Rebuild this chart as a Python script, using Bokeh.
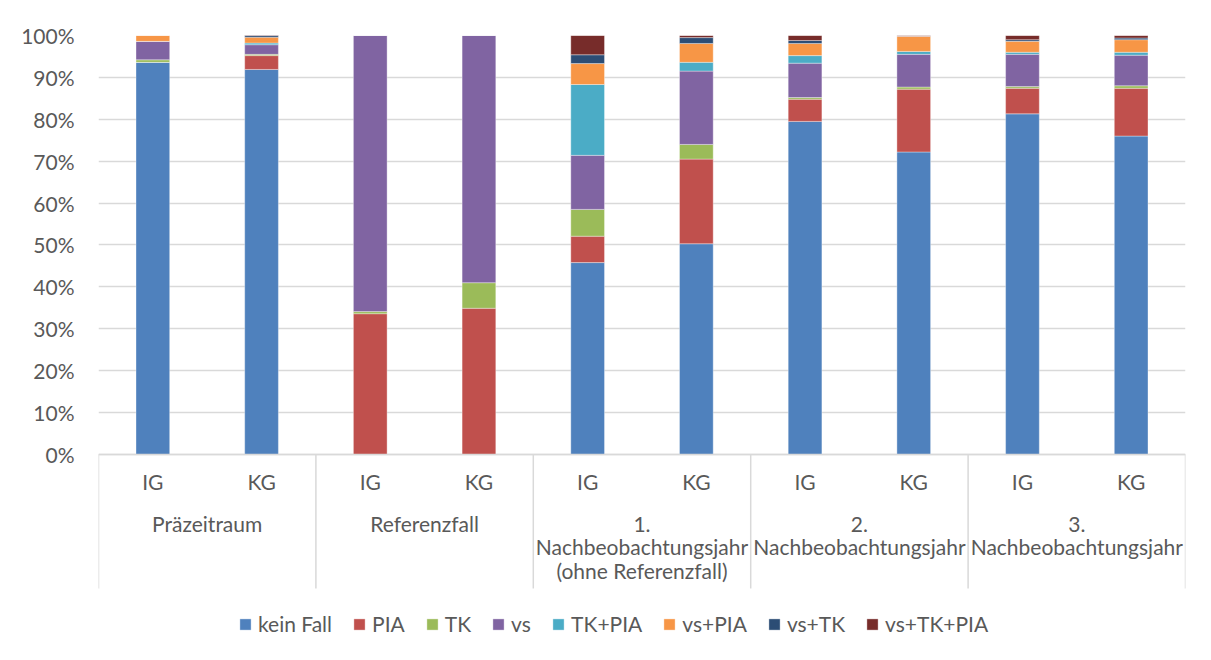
from bokeh.plotting import figure
from bokeh.models import (ColumnDataSource, FactorRange, Range1d, FixedTicker,
                          PrintfTickFormatter, Legend, LegendItem)
from bokeh.core.properties import value
from bokeh.embed import file_html
from bokeh.resources import INLINE

# ---------------- data ----------------
groups = ["Präzeitraum", "Referenzfall",
          "1.\nNachbeobachtungsjahr\n(ohne Referenzfall)",
          "2.\nNachbeobachtungsjahr", "3.\nNachbeobachtungsjahr"]
subgroups = ["IG", "KG"]
series = ["kein Fall", "PIA", "TK", "vs", "TK+PIA", "vs+PIA", "vs+TK", "vs+TK+PIA"]

kein_fall = [93.6, 91.9, 0.0, 0.0, 45.8, 50.3, 79.5, 72.2, 81.3, 76.0]
pia       = [0.0, 3.3, 33.6, 34.9, 6.3, 20.2, 5.3, 15.0, 6.1, 11.4]
tk        = [0.6, 0.3, 0.5, 6.1, 6.4, 3.5, 0.4, 0.5, 0.4, 0.6]
vs        = [4.4, 2.3, 65.9, 59.0, 12.9, 17.5, 8.2, 7.8, 7.7, 7.3]
tk_pia    = [0.0, 0.4, 0.0, 0.0, 16.9, 2.1, 1.8, 0.7, 0.5, 0.7]
vs_pia    = [1.4, 1.4, 0.0, 0.0, 5.0, 4.5, 2.9, 3.6, 2.6, 3.0]
vs_tk     = [0.0, 0.5, 0.0, 0.0, 2.1, 1.4, 0.7, 0.0, 0.4, 0.4]
vs_tk_pia = [0.0, 0.0, 0.0, 0.0, 4.6, 0.5, 1.2, 0.2, 1.0, 0.6]

y_ticks = [0, 10, 20, 30, 40, 50, 60, 70, 80, 90, 100]

colors = ["#4F81BD", "#C0504D", "#9BBB59", "#8064A2",
          "#4BACC6", "#F79646", "#2C4D75", "#772C2A"]

FONT = "Lato"
FS = "21px"
TXT = "#595959"
GRID = "#D9D9D9"

# ---------------- figure ----------------
factors = [(g, s) for g in groups for s in subgroups]
x_range = FactorRange(factors=factors, group_padding=0, factor_padding=0,
                      range_padding=0)

p = figure(width=1203, height=652, x_range=x_range,
           y_range=Range1d(-47.26, 100), output_backend="svg",
           toolbar_location=None, min_border_left=98, min_border_right=18,
           min_border_top=35, min_border_bottom=0)
p.outline_line_color = None
p.xaxis.visible = False
p.xgrid.visible = False

p.ygrid.bounds = (0, 100)
p.ygrid.grid_line_color = GRID
p.ygrid.grid_line_width = 1.5
p.ygrid.ticker = FixedTicker(ticks=y_ticks)

yax = p.yaxis[0]
yax.ticker = FixedTicker(ticks=y_ticks)
yax.formatter = PrintfTickFormatter(format="%d%%")
yax.bounds = (0, 100)
yax.axis_line_color = None
yax.major_tick_line_color = None
yax.minor_tick_line_color = None
yax.major_label_standoff = 18
yax.major_label_text_font = FONT
yax.major_label_text_font_size = FS
yax.major_label_text_color = TXT

cols = [kein_fall, pia, tk, vs, tk_pia, vs_pia, vs_tk, vs_tk_pia]
data = {"x": factors}
for name, col in zip(series, cols):
    data[name] = col
src = ColumnDataSource(data)

renderers = p.vbar_stack(series, x="x", width=0.31, source=src,
                         fill_color=colors, line_color="white",
                         line_alpha=0.35, line_width=1)

# category separators
sep_x = [(groups[0], subgroups[0], -0.5)] + [(g, subgroups[-1], 0.5) for g in groups]
p.segment(x0=sep_x, y0=[0] * len(sep_x), x1=sep_x, y1=[-31.98] * len(sep_x),
          line_color=GRID, line_width=1.5)
p.segment(x0=[sep_x[0]], y0=[0], x1=[sep_x[-1]], y1=[0],
          line_color=GRID, line_width=1.5)

# sub-category labels
p.text(x=factors, y=[-6.44] * len(factors), text=[f[1] for f in factors],
       text_align="center", text_baseline="middle",
       text_font=value(FONT), text_font_size=FS, text_color=TXT)

# group labels
p.text(x=groups, y=[-13.4] * len(groups), text=groups,
       text_align="center", text_baseline="top", text_line_height=0.95,
       text_font=value(FONT), text_font_size=FS, text_color=TXT)

legend = Legend(items=[LegendItem(label=n, renderers=[r]) for n, r in zip(series, renderers)],
                orientation="horizontal", location=(140, 16),
                glyph_width=14, glyph_height=14, label_standoff=6, spacing=20,
                padding=0, margin=0, border_line_color=None,
                background_fill_alpha=0,
                label_text_font=FONT, label_text_font_size=FS,
                label_text_color=TXT)
p.add_layout(legend, "center")

open("out.html", "w").write(file_html(p, INLINE))
